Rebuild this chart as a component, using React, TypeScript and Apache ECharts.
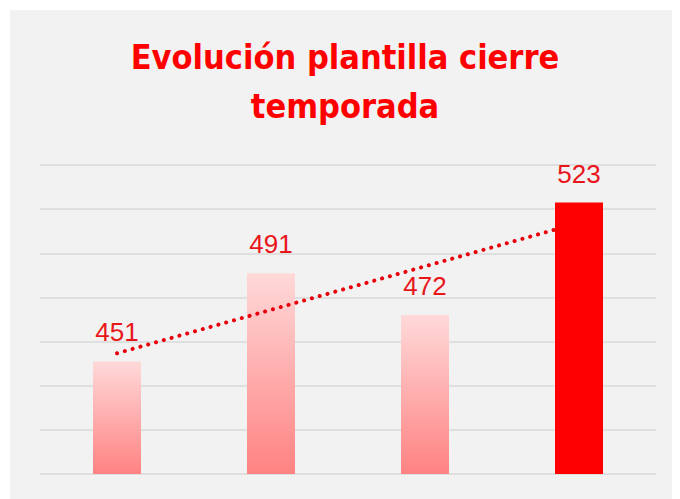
import React, { useEffect, useRef } from "react";
import * as echarts from "echarts";

const categories = ["1", "2", "3", "4"];
const values = [451, 491, 472, 523];
const highlightIndex = 3;
const titleLines = ["Evolución plantilla cierre", "temporada"];
const yMin = 400;
const yMax = 540;
const yInterval = 20;

function trend(vals: number[]): number[] {
  const n = vals.length;
  const xs = vals.map((_, i) => i + 1);
  const mx = xs.reduce((a, b) => a + b, 0) / n;
  const my = vals.reduce((a, b) => a + b, 0) / n;
  let sxy = 0;
  let sxx = 0;
  for (let i = 0; i < n; i++) {
    sxy += (xs[i] - mx) * (vals[i] - my);
    sxx += (xs[i] - mx) * (xs[i] - mx);
  }
  const b = sxy / sxx;
  const a = my - b * mx;
  return xs.map((x) => a + b * x);
}

export default function App() {
  const ref = useRef<HTMLDivElement>(null);
  useEffect(() => {
    if (!ref.current) return;
    const chart = echarts.init(ref.current, null, { renderer: "svg" });
    const normal = values.map((v, i) => (i === highlightIndex ? null : v));
    const hi = values.map((v, i) => (i === highlightIndex ? v : null));
    const labelStyle = {
      show: true,
      position: "top" as const,
      distance: 16,
      color: "#e8161b",
      fontSize: 26,
      fontFamily: "Liberation Sans",
      fontWeight: 300,
    };
    chart.setOption({
      animation: false,
      backgroundColor: "#f2f2f2",
      title: {
        text: titleLines.join("\n"),
        left: "center",
        top: 17,
        textStyle: {
          color: "#ff0000",
          fontSize: 34,
          fontWeight: "bold",
          fontFamily: "DejaVu Sans Condensed",
          lineHeight: 49,
        },
      },
      grid: { left: 30, right: 24, top: 155, bottom: 25, containLabel: false },
      xAxis: {
        type: "category",
        data: categories,
        axisLine: { show: false },
        axisTick: { show: false },
        axisLabel: { show: false },
      },
      yAxis: {
        type: "value",
        min: yMin,
        max: yMax,
        interval: yInterval,
        axisLabel: { show: false },
        axisLine: { show: false },
        axisTick: { show: false },
        splitLine: { lineStyle: { color: "#d9d9d9", width: 1.5 } },
      },
      series: [
        {
          type: "bar",
          data: normal,
          barWidth: 48,
          barGap: "-100%",
          z: 2,
          itemStyle: {
            color: new echarts.graphic.LinearGradient(0, 0, 0, 1, [
              { offset: 0, color: "#ffd9d9" },
              { offset: 1, color: "#ff8282" },
            ]),
          },
          label: labelStyle,
        },
        {
          type: "line",
          data: trend(values),
          z: 3,
          symbol: "none",
          lineStyle: { color: "#e8000b", width: 4, type: [0.1, 8], cap: "round" },
        },
        {
          type: "bar",
          data: hi,
          barWidth: 48,
          barGap: "-100%",
          z: 4,
          itemStyle: { color: "#ff0000" },
          label: labelStyle,
        },
      ],
    });
    return () => chart.dispose();
  }, []);
  return (
    <div style={{ paddingLeft: 2, paddingTop: 2 }}>
      <div ref={ref} style={{ width: 670, height: 489 }} />
    </div>
  );
}
